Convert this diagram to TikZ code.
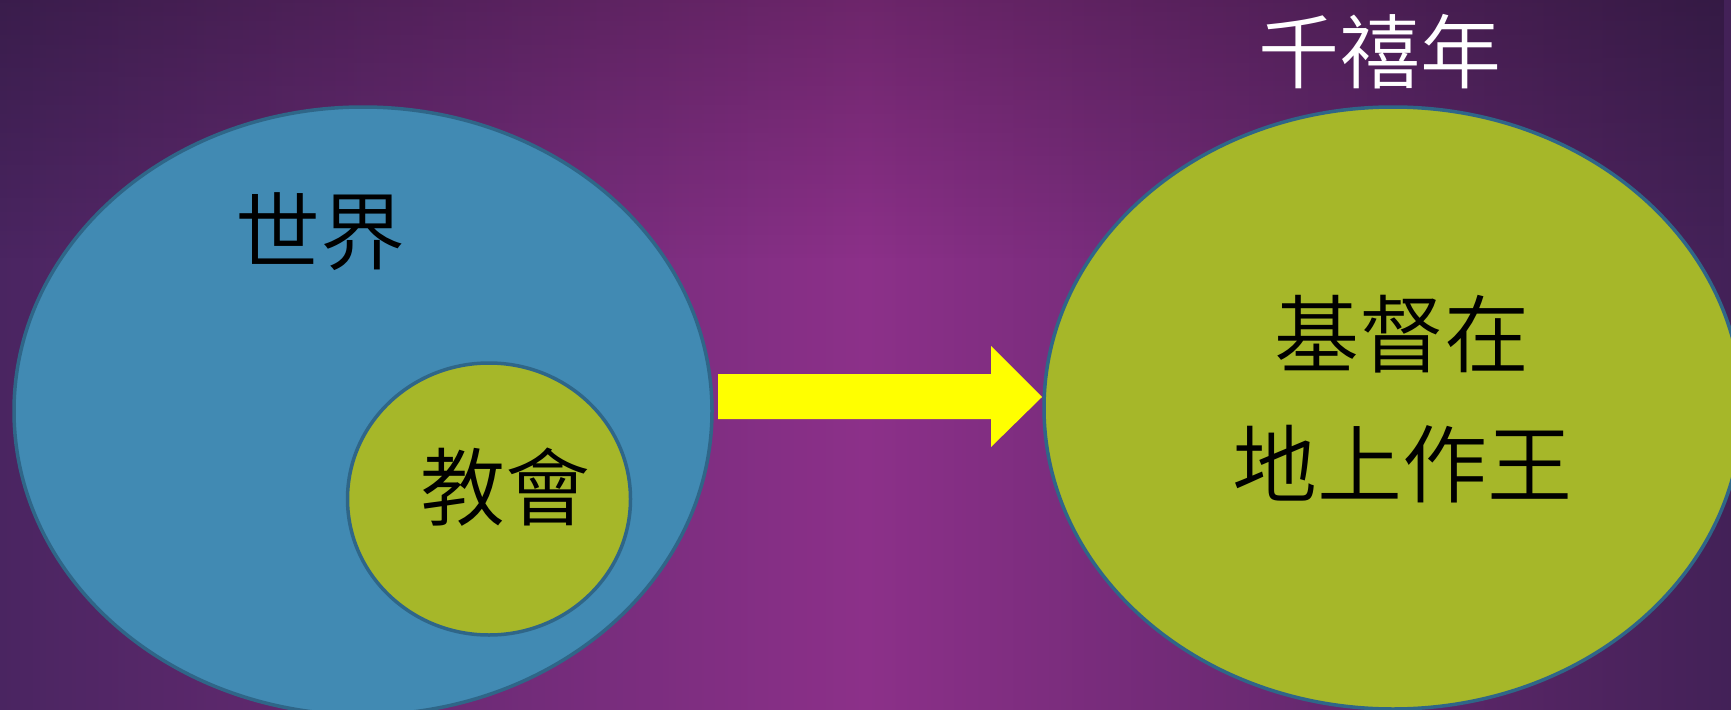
\documentclass[tikz,border=0pt]{standalone}
\usepackage{fontspec}
\usetikzlibrary{shapes.geometric,fadings}
\newfontfamily\cjk{Noto Sans CJK TC DemiLight}
\definecolor{bgdark}{HTML}{4A2561}
\definecolor{bgmid}{HTML}{8C3089}
\definecolor{worldblue}{HTML}{418AB3}
\definecolor{olive}{HTML}{A6B729}
\definecolor{rimblue}{HTML}{2F6688}
\definecolor{arrowyellow}{HTML}{FFFF00}
\begin{document}
\begin{tikzpicture}[x=1pt,y=-1pt,
  blob/.style={ellipse, draw=rimblue, line width=3.5pt, inner sep=0pt},
  label/.style={font=\cjk\fontsize{85}{96}\selectfont, text=black, inner sep=0pt},
  title/.style={font=\cjk\fontsize{81}{92}\selectfont, text=white, inner sep=0pt}]
\useasboundingbox (0,0) rectangle (1731,709);
% background
\shade[left color=bgdark, right color=bgdark!90!black, middle color=bgmid] (0,0) rectangle (1731,709);
\fill[black, opacity=0.22, path fading=south] (0,0) rectangle (1731,260);
% shapes
\path (363,411) node[blob, fill=worldblue, minimum width=698pt, minimum height=608pt] (world) {};
\path (489,499) node[blob, fill=olive, minimum width=283pt, minimum height=272pt] (church) {};
\path (1393,408) node[blob, fill=olive, minimum width=698pt, minimum height=602pt] (mill) {};
% arrow
\fill[arrowyellow] (718,374) -- (991,374) -- (991,346) -- (1042,397) -- (991,447) -- (991,419) -- (718,419) -- cycle;
% texts
\node[label] (t1) at (320,232) {世界};
\node[label] (t2) at (505,487) {教會};
\node[label] (t3) at (1402,334) {基督在};
\node[label] (t4) at (1402,464) {地上作王};
\node[title] (t5) at (1380,52) {千禧年};
\end{tikzpicture}
\end{document}
